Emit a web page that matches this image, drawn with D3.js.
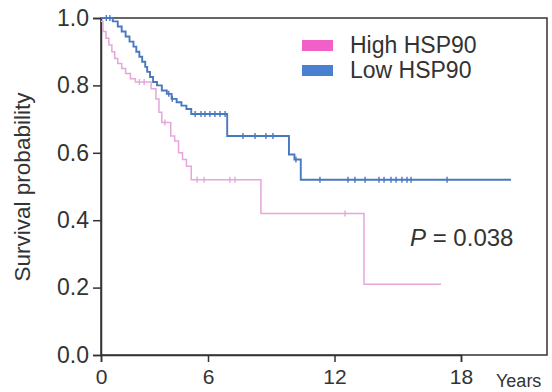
<!DOCTYPE html>
<html><head><meta charset="utf-8">
<script src="https://cdn.jsdelivr.net/npm/d3@7"></script>
<style>html,body{margin:0;padding:0;background:#fff;}svg{display:block;font-family:Arial,"Liberation Sans",sans-serif;}</style>
</head><body><svg id="c" width="552" height="392"></svg>
<script>
// Kaplan-Meier steps (years, survival)
const highTimes = [0, 0.11, 0.28, 0.44, 0.61, 0.77, 0.94, 1.16, 1.38, 1.65, 1.93, 2.81, 3.08, 3.25, 3.41, 3.91, 4.13, 4.35, 4.57, 4.79, 5.06, 8.51, 13.4, 17.05];
const highSurv  = [0.99, 0.96, 0.94, 0.92, 0.90, 0.88, 0.865, 0.85, 0.835, 0.82, 0.81, 0.79, 0.76, 0.72, 0.69, 0.65, 0.635, 0.60, 0.58, 0.56, 0.52, 0.42, 0.21, 0.21];
const highCensor = [2.15, 2.42, 3.58, 5.39, 5.78, 7.04, 7.28, 12.5];
const lowTimes = [0, 0.66, 0.94, 1.16, 1.38, 1.6, 1.82, 1.98, 2.15, 2.31, 2.48, 2.59, 2.75, 2.92, 3.14, 3.41, 3.69, 3.96, 4.24, 4.51, 4.79, 5.06, 6.91, 9.84, 10.1, 10.4, 20.37];
const lowSurv  = [1.0, 0.99, 0.975, 0.96, 0.945, 0.93, 0.915, 0.90, 0.885, 0.87, 0.855, 0.84, 0.825, 0.81, 0.80, 0.785, 0.775, 0.76, 0.75, 0.74, 0.73, 0.715, 0.65, 0.595, 0.58, 0.52, 0.52];
const lowCensor = [0.3, 0.5, 3.8, 4.0, 5.28, 5.61, 5.83, 6.09, 6.33, 6.57, 6.81, 7.66, 8.23, 8.75, 9.08, 10.17, 11.31, 12.64, 12.97, 13.45, 14.11, 14.35, 14.68, 14.92, 15.2, 15.44, 15.63, 17.34];
const xTicks = [0, 6, 12, 18];
const yTicks = [0, 0.2, 0.4, 0.6, 0.8, 1.0];
const seriesNames = ["High HSP90", "Low HSP90"];
const pText = "0.038";

const svg = d3.select("#c");
const x = d3.scaleLinear().domain([0, 6, 18]).range([101, 208, 461]);
const y = d3.scaleLinear().domain([0, 1]).range([355, 18]);
const xEnd = 547;

// frame
svg.append("rect").attr("x", 101).attr("y", 18).attr("width", xEnd - 101).attr("height", 355 - 18)
  .attr("fill", "none").attr("stroke", "#333").attr("stroke-width", 1.5);

// axes
const ya = svg.append("g").attr("transform", "translate(101,0)")
  .call(d3.axisLeft(y).tickValues(yTicks).tickFormat(d3.format(".1f")).tickSize(8).tickPadding(4));
const xa = svg.append("g").attr("transform", "translate(0,355)")
  .call(d3.axisBottom(x).tickValues(xTicks).tickFormat(d3.format("d")).tickSize(7).tickPadding(7));
[ya, xa].forEach(g => {
  g.select(".domain").attr("stroke", "#333").attr("stroke-width", 1.5);
  g.selectAll(".tick line").attr("stroke", "#333").attr("stroke-width", 1.5);
  g.selectAll(".tick text").attr("fill", "#333").style("font-family", "Arial, 'Liberation Sans', sans-serif");
});
ya.selectAll(".tick text").style("font-size", "23px");
xa.selectAll(".tick text").style("font-size", "21px");
svg.append("text").attr("x", 496).attr("y", 387).attr("fill", "#333").style("font-size", "18px").text("Years");
svg.append("text").attr("transform", "translate(30,187) rotate(-90)").attr("text-anchor", "middle")
  .attr("fill", "#333").style("font-size", "22.5px").text("Survival probability");

const line = d3.line().x(d => x(d[0])).y(d => y(d[1])).curve(d3.curveStepAfter);
function stepAt(times, surv, t) { let v = surv[0]; for (let i = 0; i < times.length; i++) if (times[i] <= t) v = surv[i]; return v; }

const series = [
  {times: highTimes, surv: highSurv, cens: highCensor, color: "#e6a6dc", w: 1.5},
  {times: lowTimes, surv: lowSurv, cens: lowCensor, color: "#4a78c0", w: 1.9}
];
series.forEach(s => {
  svg.append("path").datum(s.times.map((t, i) => [t, s.surv[i]]))
    .attr("d", line).attr("fill", "none").attr("stroke", s.color).attr("stroke-width", s.w);
  svg.selectAll(null).data(s.cens).enter().append("line")
    .attr("x1", d => x(d)).attr("x2", d => x(d))
    .attr("y1", d => y(stepAt(s.times, s.surv, d)) - 3).attr("y2", d => y(stepAt(s.times, s.surv, d)) + 3)
    .attr("stroke", s.color).attr("stroke-width", 1.4);
});

// legend
const legColors = ["#f060c8", "#4a80d0"];
seriesNames.forEach((n, i) => {
  svg.append("rect").attr("x", 302).attr("y", 40 + i * 25).attr("width", 31).attr("height", 11).attr("fill", legColors[i]);
  svg.append("text").attr("x", 350).attr("y", 53 + i * 25).attr("fill", "#333").style("font-size", "23px").text(n);
});
const pt = svg.append("text").attr("x", 410).attr("y", 246).attr("fill", "#333").style("font-size", "24px");
pt.append("tspan").style("font-style", "italic").text("P");
pt.append("tspan").text(" = " + pText);
</script></body></html>
